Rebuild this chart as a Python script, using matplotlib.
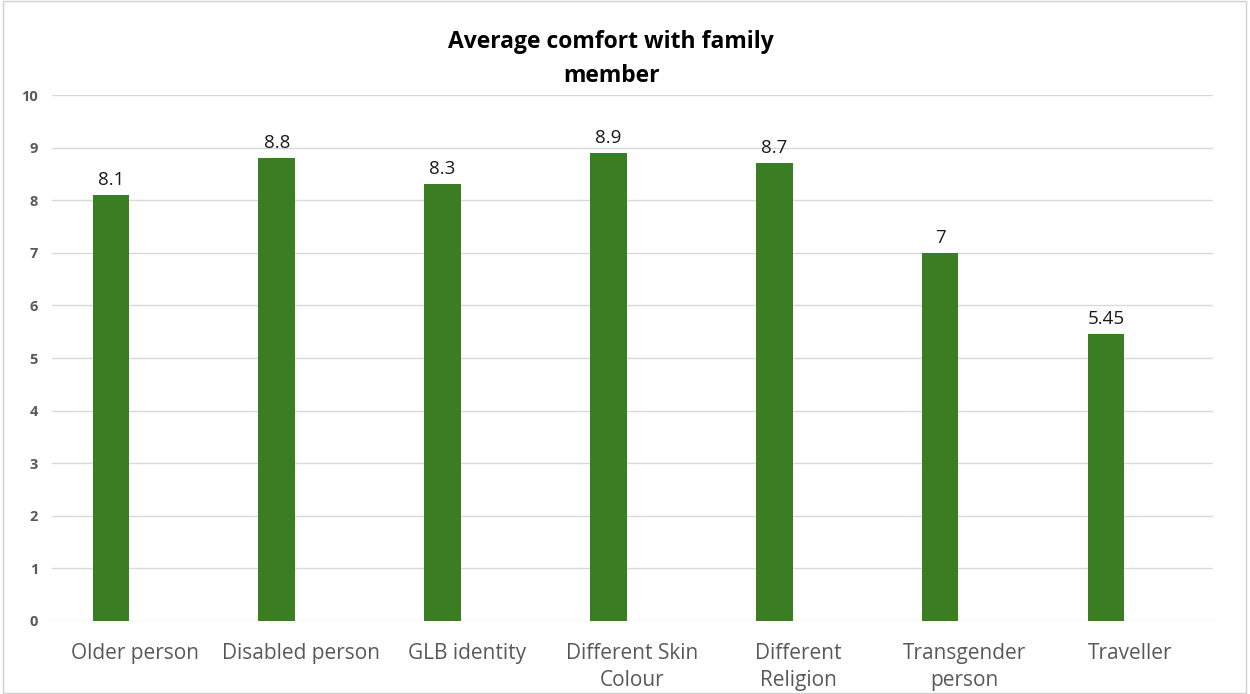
import matplotlib.pyplot as plt
import numpy as np

plt.rcParams['font.family'] = ['Open Sans', 'DejaVu Sans']

# Data
categories = ["Older person", "Disabled person", "GLB identity", "Different Skin\nColour",
              "Different\nReligion", "Transgender\nperson", "Traveller"]
values = [8.1, 8.8, 8.3, 8.9, 8.7, 7, 5.45]
value_labels = ["8.1", "8.8", "8.3", "8.9", "8.7", "7", "5.45"]
yticks = list(range(0, 11))

fig = plt.figure(figsize=(12.5, 6.94), dpi=100)
ax = fig.add_axes([0.0416, 0.1052, 0.9288, 0.7578])

x = np.arange(len(categories))
# bars sit left of the category centre (clustered layout)
bx = x - 0.145
ax.bar(bx, values, width=0.22, color="#3A7D22", zorder=3)

for xi, v, lab in zip(bx, values, value_labels):
    ax.text(xi, v + 0.12, lab, ha="center", va="bottom", fontsize=13.5, color="#1a1a1a")

ax.set_xlim(-0.5, len(categories) - 0.5)
ax.set_ylim(0, 10)
ax.set_yticks(yticks)
ax.set_yticklabels([str(t) for t in yticks], fontsize=10.5, fontweight="bold", color="#595959")
ax.set_xticks(x)
ax.set_xticklabels(categories, fontsize=15, color="#595959", linespacing=1.35)
ax.tick_params(axis="both", length=0)
ax.tick_params(axis="x", pad=16)
ax.tick_params(axis="y", pad=10)
ax.grid(axis="y", color="#d9d9d9", linewidth=1, zorder=0)
for s in ax.spines.values():
    s.set_visible(False)

fig.suptitle("Average comfort with family\nmember", x=0.489, y=0.957, fontsize=16.5,
             fontweight="bold", color="#000000", linespacing=1.55)

# outer frame
fig.patches.append(plt.Rectangle((0.002, 0.002), 0.995, 0.996, transform=fig.transFigure,
                                 fill=False, edgecolor="#d0d0d0", linewidth=1))

fig.savefig("out.png", dpi=100)
